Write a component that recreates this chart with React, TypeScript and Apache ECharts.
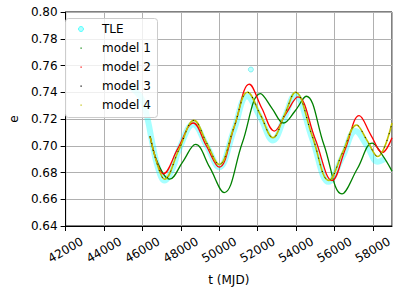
import React, { useEffect, useRef } from "react";
import * as echarts from "echarts";

const xTicks = [42000, 44000, 46000, 48000, 50000, 52000, 54000, 56000, 58000];
const yTicks = [0.64, 0.66, 0.68, 0.7, 0.72, 0.74, 0.76, 0.78, 0.8];

const tle: [number, number][] = [
  [45300, 0.745], [45700, 0.74], [46000, 0.734], [46300, 0.718], [46500, 0.703],
  [46800, 0.684], [47150, 0.674], [47600, 0.684], [47900, 0.697], [48650, 0.716],
  [49350, 0.7], [50000, 0.684], [50750, 0.711], [51450, 0.737], [52150, 0.721],
  [52800, 0.704], [53400, 0.721], [53950, 0.738], [54850, 0.705], [55700, 0.673],
  [56430, 0.692], [57100, 0.711], [57700, 0.7], [58250, 0.688], [58600, 0.69],
];
const tleOutlier: [number, number][] = [[51650, 0.757]];

const model1: [number, number][] = [
  [46400, 0.707], [46800, 0.687], [47420, 0.675], [48100, 0.688], [48770, 0.701],
  [49500, 0.684], [50260, 0.665], [51200, 0.702], [52150, 0.739], [52750, 0.728],
  [53350, 0.717], [53950, 0.726], [54530, 0.737], [55450, 0.701], [56390, 0.664],
  [57200, 0.683], [57970, 0.702], [58500, 0.693], [59000, 0.681],
];
const model2: [number, number][] = [
  [46400, 0.707], [46750, 0.688], [47080, 0.679], [47850, 0.698], [48650, 0.717],
  [49330, 0.7], [50000, 0.684], [50800, 0.715], [51570, 0.746], [52220, 0.728],
  [52870, 0.711], [53480, 0.724], [54100, 0.7365], [55000, 0.705], [55880, 0.674],
  [56580, 0.698], [57290, 0.7225], [57900, 0.708], [58500, 0.695], [59000, 0.706],
];
const model3: [number, number][] = [
  [46400, 0.707], [46800, 0.685], [47150, 0.675], [47900, 0.697], [48690, 0.719],
  [49350, 0.702], [50000, 0.686], [50750, 0.713], [51480, 0.74], [52150, 0.723],
  [52800, 0.706], [53400, 0.723], [53970, 0.74], [54850, 0.707], [55710, 0.674],
  [56430, 0.695], [57150, 0.7155], [57700, 0.704], [58250, 0.692], [59000, 0.717],
];
const model4: [number, number][] = [
  [46400, 0.707], [46800, 0.685], [47150, 0.675], [47900, 0.697], [48690, 0.719],
  [49350, 0.702], [50000, 0.686], [50750, 0.713], [51480, 0.74], [52150, 0.723],
  [52800, 0.706], [53400, 0.723], [53970, 0.74], [54850, 0.707], [55710, 0.674],
  [56430, 0.695], [57150, 0.7155], [57700, 0.704], [58250, 0.692], [59000, 0.717],
];

const legendNames = ["TLE", "model 1", "model 2", "model 3", "model 4"];
const legendColors = ["rgba(0,255,255,0.35)", "#008000", "#ff0000", "#000000", "#bfbf00"];

const FONT = "DejaVu Sans";

export default function App() {
  const ref = useRef<HTMLDivElement>(null);
  useEffect(() => {
    if (!ref.current) return;
    const chart = echarts.init(ref.current, undefined, { renderer: "svg" });
    const lineSeries = (name: string, data: [number, number][], color: string, z: number, extra: any = {}) => ({
      name,
      type: "line",
      data,
      smooth: 0.4,
      showSymbol: false,
      symbol: "none",
      z,
      lineStyle: { color, width: 1.3, ...(extra.lineStyle || {}) },
      itemStyle: { color },
      silent: true,
    });
    const legendGraphics: any[] = [
      {
        type: "rect",
        left: 65,
        top: 18,
        shape: { width: 92, height: 99, r: 3 },
        style: { fill: "rgba(255,255,255,0.8)", stroke: "#cccccc", lineWidth: 1 },
        z: 100,
      },
    ];
    legendNames.forEach((n, i) => {
      const cy = 29 + i * 19;
      if (i === 0) {
        legendGraphics.push({
          type: "circle",
          shape: { cx: 81, cy, r: 2.5 },
          style: { fill: "rgba(0,255,255,0.3)", stroke: "rgba(0,255,255,0.6)", lineWidth: 1 },
          z: 101,
        });
      } else {
        legendGraphics.push({
          type: "rect",
          shape: { x: 80.5, y: cy - 0.5, width: 1.2, height: 1.2 },
          style: { fill: legendColors[i] },
          z: 101,
        });
      }
      legendGraphics.push({
        type: "text",
        x: 102,
        y: cy,
        style: { text: n, fill: "#000", font: `12px "${FONT}"`, verticalAlign: "middle", align: "left" },
        z: 101,
      });
    });
    chart.setOption({
      animation: false,
      grid: { left: 58, right: 7, top: 12, bottom: 62, show: true, borderColor: "#000", borderWidth: 1, backgroundColor: "transparent" },
      xAxis: {
        type: "value",
        min: 42000,
        max: 59000,
        interval: 2000,
        name: "t (MJD)",
        nameLocation: "middle",
        nameGap: 48,
        nameTextStyle: { fontFamily: FONT, fontSize: 12, color: "#000" },
        axisLine: { show: true, onZero: false, lineStyle: { color: "#000" } },
        axisTick: { show: true, length: 5, lineStyle: { color: "#000" } },
        splitLine: { show: true, lineStyle: { color: "#b0b0b0", width: 1 } },
        axisLabel: {
          rotate: 30,
          align: "center",
          verticalAlign: "middle",
          margin: 24,
          showMaxLabel: false,
          fontFamily: FONT,
          fontSize: 12,
          color: "#000",
          formatter: (v: number) => (xTicks.includes(v) ? String(v) : ""),
        },
      },
      yAxis: {
        type: "value",
        min: 0.64,
        max: 0.8,
        interval: 0.02,
        name: "e",
        nameLocation: "middle",
        nameGap: 44,
        nameRotate: 90,
        nameTextStyle: { fontFamily: FONT, fontSize: 12, color: "#000" },
        axisLine: { show: true, onZero: false, lineStyle: { color: "#000" } },
        axisTick: { show: true, length: 5, lineStyle: { color: "#000" } },
        splitLine: { show: true, lineStyle: { color: "#b0b0b0", width: 1 } },
        axisLabel: {
          margin: 8,
          fontFamily: FONT,
          fontSize: 12,
          color: "#000",
          formatter: (v: number) => {
            const m = yTicks.find((t) => Math.abs(t - v) < 1e-9);
            return m !== undefined ? m.toFixed(2) : "";
          },
        },
      },
      graphic: legendGraphics,
      series: [
        lineSeries("TLE", tle, "rgba(0,255,255,0.35)", 1, { lineStyle: { width: 6 } }),
        {
          name: "TLE",
          type: "scatter",
          data: tleOutlier,
          symbol: "circle",
          symbolSize: 5,
          itemStyle: { color: "rgba(0,255,255,0.3)", borderColor: "rgba(0,220,220,0.5)", borderWidth: 1 },
          z: 1,
          silent: true,
        },
        lineSeries("model 1", model1, "#008000", 2),
        lineSeries("model 2", model2, "#ff0000", 3),
        lineSeries("model 4", model4, "#bfbf00", 4, { lineStyle: { width: 1.6 } }),
        lineSeries("model 3", model3, "#000000", 5, { lineStyle: { width: 1, type: [1, 6] } }),
      ],
    });
    return () => chart.dispose();
  }, []);
  return <div ref={ref} style={{ width: 399, height: 291, position: "absolute", left: 0, top: 0 }} />;
}
